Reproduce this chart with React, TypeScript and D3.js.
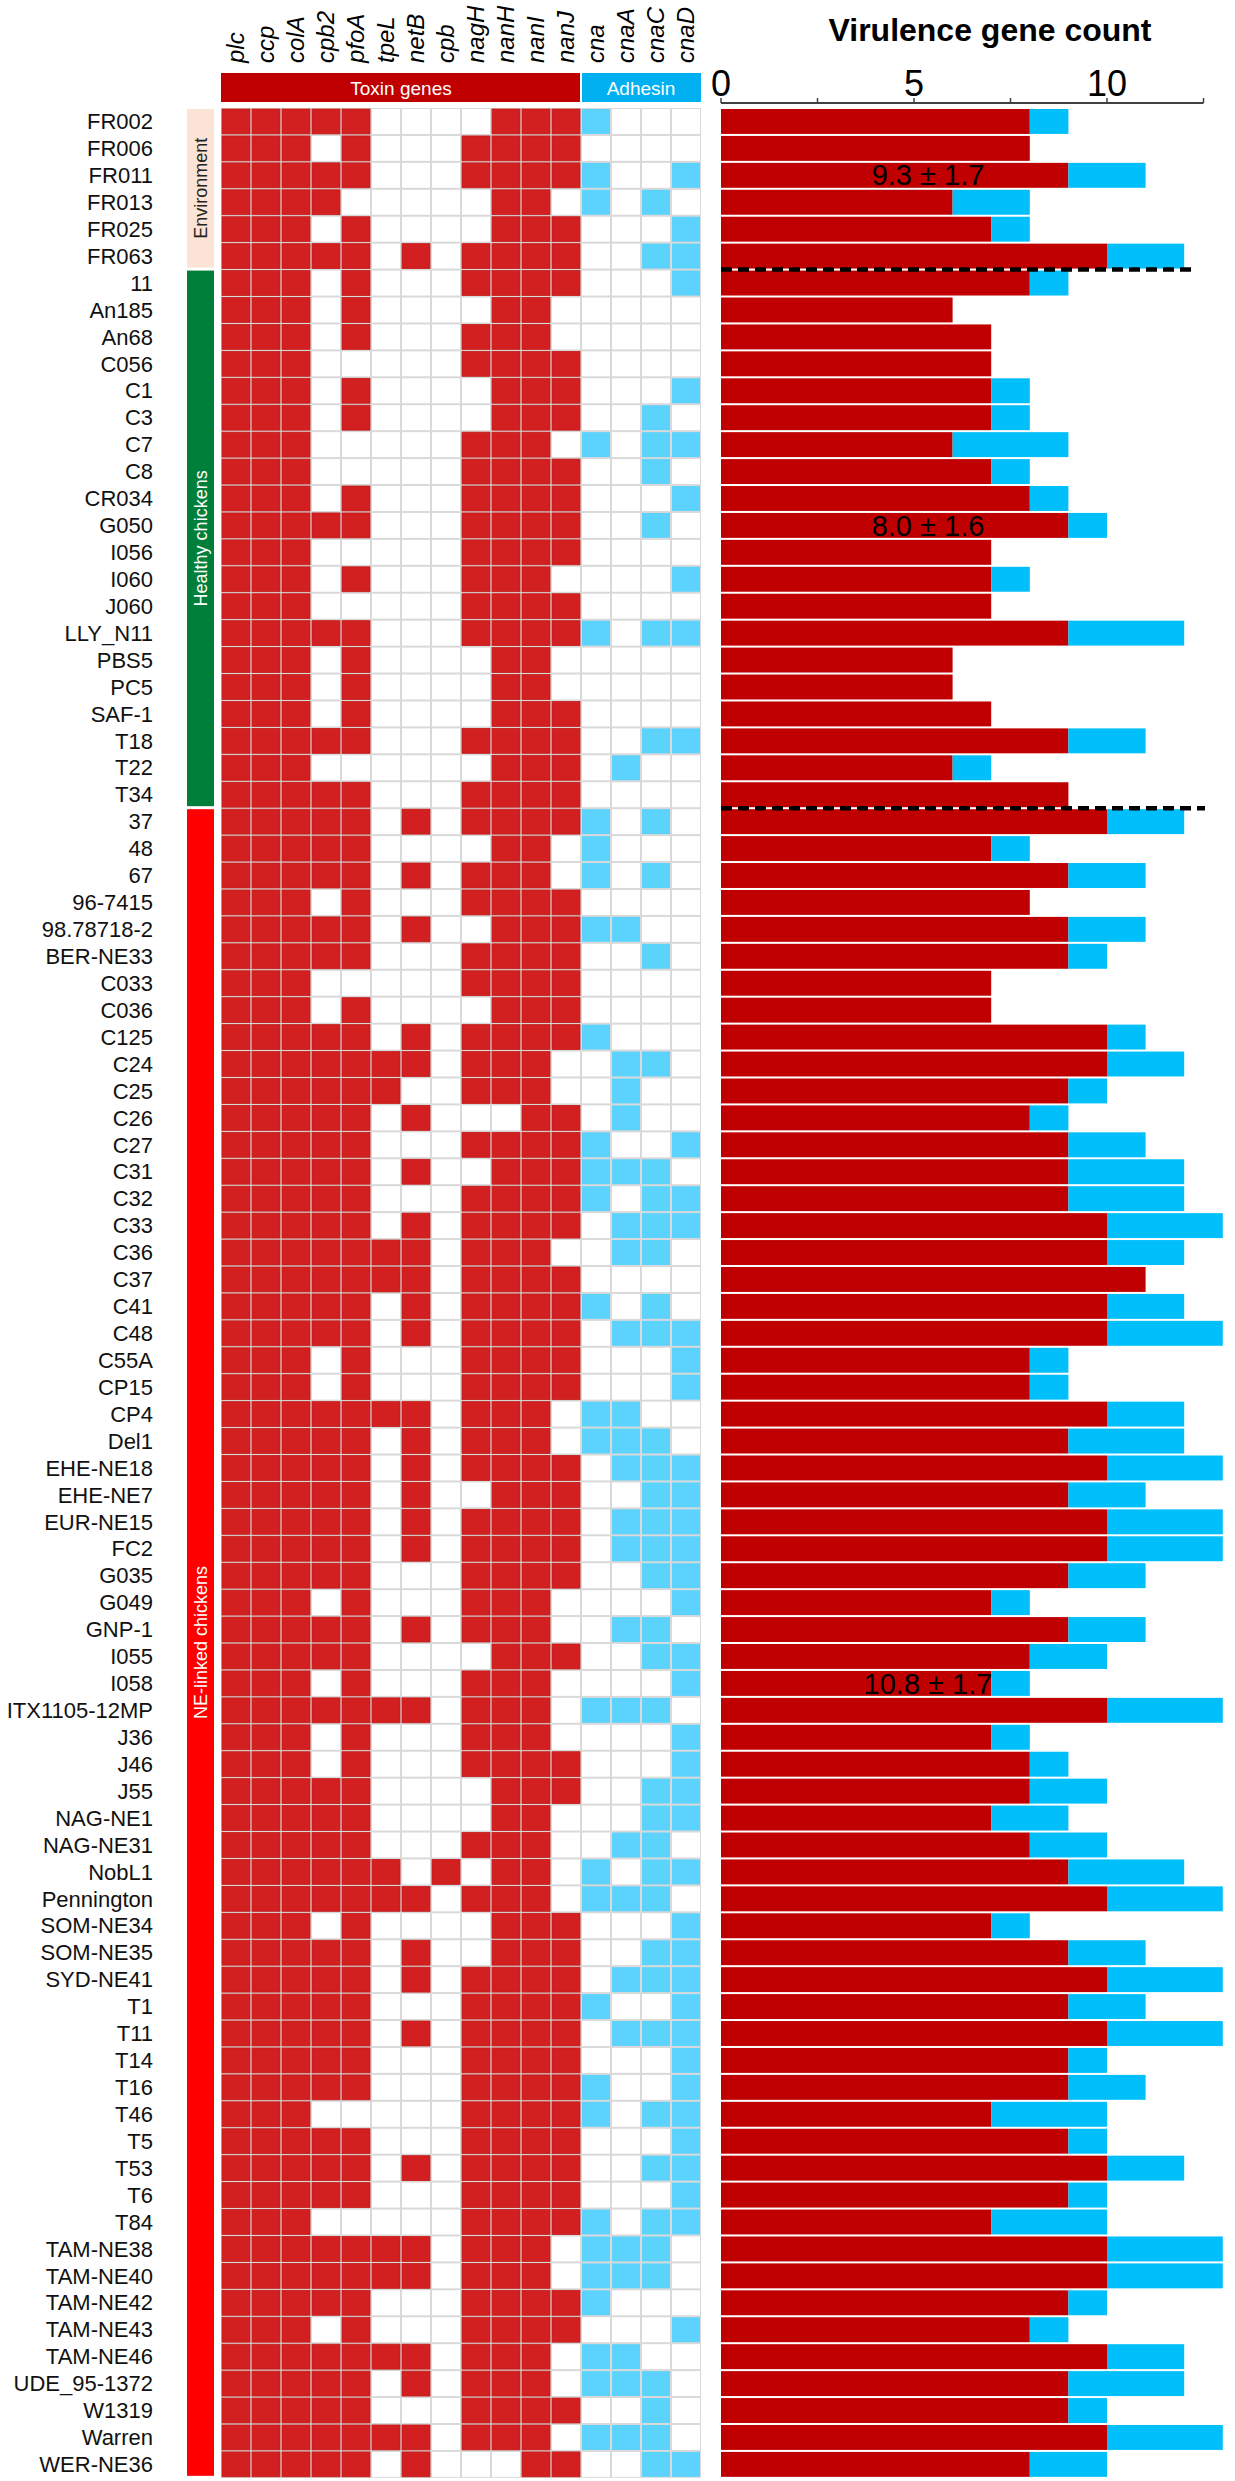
import React from 'react';
import * as d3 from 'd3';

const toxinGenes = ['plc', 'ccp', 'colA', 'cpb2', 'pfoA', 'tpeL', 'netB', 'cpb', 'nagH', 'nanH', 'nanI', 'nanJ'];
const adhesinGenes = ['cna', 'cnaA', 'cnaC', 'cnaD'];
const genes = [...toxinGenes, ...adhesinGenes];

const groupNames = ['Environment', 'Healthy chickens', 'NE-linked chickens'];
const groupSizes = [6, 20, 62];
const groupMeans = ['9.3 ± 1.7', '8.0 ± 1.6', '10.8 ± 1.7'];
const meanRows = ['FR011', 'G050', 'I058'];

const strains = [
  'FR002', 'FR006', 'FR011', 'FR013', 'FR025', 'FR063',
  '11', 'An185', 'An68', 'C056', 'C1', 'C3', 'C7', 'C8', 'CR034', 'G050', 'I056', 'I060', 'J060', 'LLY_N11', 'PBS5', 'PC5', 'SAF-1', 'T18', 'T22', 'T34',
  '37', '48', '67', '96-7415', '98.78718-2', 'BER-NE33', 'C033', 'C036', 'C125', 'C24', 'C25', 'C26', 'C27', 'C31', 'C32', 'C33', 'C36', 'C37', 'C41', 'C48', 'C55A', 'CP15', 'CP4', 'Del1', 'EHE-NE18', 'EHE-NE7', 'EUR-NE15', 'FC2', 'G035', 'G049', 'GNP-1', 'I055', 'I058', 'ITX1105-12MP', 'J36', 'J46', 'J55', 'NAG-NE1', 'NAG-NE31', 'NobL1', 'Pennington', 'SOM-NE34', 'SOM-NE35', 'SYD-NE41', 'T1', 'T11', 'T14', 'T16', 'T46', 'T5', 'T53', 'T6', 'T84', 'TAM-NE38', 'TAM-NE40', 'TAM-NE42', 'TAM-NE43', 'TAM-NE46', 'UDE_95-1372', 'W1319', 'Warren', 'WER-NE36',
];

// presence (1) / absence (0) of each gene, in the order of `genes`
const profiles = [
  '1111100001111000', '1110100011110000', '1111100011111001', '1111000001101010', '1110100001110001', '1111101011110011',
  '1110100011110001', '1110100001100000', '1110100011100000', '1110000011110000', '1110100001110001', '1110100001110010',
  '1110000011101011', '1110000011110010', '1110100011110001', '1111100011110010', '1110000011110000', '1110100011100001',
  '1110000011110000', '1111100011111011', '1110100001100000', '1110100001100000', '1110100001110000', '1111100011110011',
  '1110000001110100', '1111100011110000',
  '1111101011111010', '1111100001101000', '1111101011101010', '1110100011110000', '1111101001111100', '1111100011110010',
  '1110000011110000', '1110100001110000', '1111101011111000', '1111111011100110', '1111110011100100', '1111101000110100',
  '1111100011111001', '1111101001111110', '1111100011111011', '1111101011110111', '1111111011100110', '1111111011110000',
  '1111101011111010', '1111101011110111', '1110100011110001', '1110100011110001', '1111111011101100', '1111101011101110',
  '1111101011110111', '1111101001110011', '1111101011110111', '1111101011110111', '1111100011110011', '1110100011100001',
  '1111101011100110', '1111100001110011', '1110100011100001', '1111111011101110', '1110100011100001', '1110100011110001',
  '1111100001110011', '1111100001100011', '1111100011100110', '1111110101101011', '1111111011101110', '1110100001110001',
  '1111101001110011', '1111101011110111', '1111100011111001', '1111101011110111', '1111100011110001', '1111100011111001',
  '1110000011111011', '1111100011110001', '1111101011110011', '1111100011110001', '1110000011111011', '1111111011101110',
  '1111111011101110', '1111100011111000', '1110100011110001', '1111111011101100', '1111101011101110', '1111100011110010',
  '1111111011101110', '1111101000110011',
];

const axisTicks = [0, 2.5, 5, 7.5, 10, 12.5];
const axisLabels = [0, 5, 10];

const FONT = "'Liberation Sans', Arial, Helvetica, sans-serif";
const CELL_RED = '#D21F1F';
const CELL_BLUE = '#5CD3FF';
const BAR_RED = '#C00000';
const BAR_BLUE = '#00BFFA';
const groupFill = ['#FBE3D5', '#007F3A', '#FF0000'];
const groupText = ['#222', '#fff', '#fff'];

export default function App() {
  const W = 1235;
  const H = 2481;
  const rowTop = 108;
  const rowH = 26.93;

  const y = d3.scaleBand<string>().domain(strains).range([rowTop, rowTop + rowH * strains.length]).padding(0);
  const x = d3.scaleBand<string>().domain(genes).range([221, 701]).padding(0);
  const xb = d3.scaleLinear().domain([0, 12.5]).range([721, 1203.5]);

  const toxinCounts = profiles.map((p) => p.slice(0, toxinGenes.length).split('').filter((c) => c === '1').length);
  const adhesinCounts = profiles.map((p) => p.slice(toxinGenes.length).split('').filter((c) => c === '1').length);

  const groupStarts = groupSizes.map((_, i) => d3.sum(groupSizes.slice(0, i)));

  const cw = x.bandwidth();
  const rh = y.bandwidth();
  const toxinX0 = x(toxinGenes[0])!;
  const toxinX1 = x(toxinGenes[toxinGenes.length - 1])! + cw;
  const adhX0 = x(adhesinGenes[0])!;
  const adhX1 = x(adhesinGenes[adhesinGenes.length - 1])! + cw;

  return (
    <svg width={W} height={H} style={{ position: 'absolute', left: 0, top: 0, background: '#fff' }} fontFamily={FONT}>
      {/* title */}
      <text x={990} y={41} textAnchor="middle" fontSize={32} fontWeight="bold" fill="#000">
        Virulence gene count
      </text>

      {/* gene names */}
      {genes.map((g) => (
        <text
          key={g}
          transform={`translate(${x(g)! + cw / 2},63) rotate(-90)`}
          dy="0.35em"
          fontSize={24}
          fontStyle="italic"
          fill="#000"
        >
          {g}
        </text>
      ))}

      {/* gene class header bars */}
      <rect x={toxinX0} y={73} width={toxinX1 - toxinX0 - 1} height={29} fill="#C00000" />
      <text x={(toxinX0 + toxinX1) / 2} y={88} dy="0.35em" textAnchor="middle" fontSize={19} fill="#fff">
        Toxin genes
      </text>
      <rect x={adhX0 + 1} y={73} width={adhX1 - adhX0 - 1} height={29} fill="#00B0F0" />
      <text x={(adhX0 + adhX1) / 2} y={88} dy="0.35em" textAnchor="middle" fontSize={19} fill="#fff">
        Adhesin
      </text>

      {/* bar axis */}
      <line x1={xb(0)} x2={xb(12.5)} y1={103} y2={103} stroke="#404040" strokeWidth={2} />
      {axisTicks.map((t) => (
        <line key={t} x1={xb(t)} x2={xb(t)} y1={103} y2={98} stroke="#404040" strokeWidth={1.5} />
      ))}
      {axisLabels.map((t) => (
        <text key={t} x={xb(t)} y={96} textAnchor="middle" fontSize={36} fill="#000">
          {t}
        </text>
      ))}

      {/* row labels */}
      {strains.map((s) => (
        <text key={s} x={153} y={y(s)! + rh / 2} dy="0.35em" textAnchor="end" fontSize={22} fill="#111">
          {s}
        </text>
      ))}

      {/* group bars */}
      {groupNames.map((g, i) => {
        const top = y(strains[groupStarts[i]])! + 1;
        const bottom = y(strains[groupStarts[i] + groupSizes[i] - 1])! + rh - 2;
        const cx = 187 + 13.5;
        return (
          <g key={g}>
            <rect x={187} y={top} width={27} height={bottom - top} fill={groupFill[i]} />
            <text
              transform={`translate(${cx},${(top + bottom) / 2}) rotate(-90)`}
              dy="0.35em"
              textAnchor="middle"
              fontSize={18}
              fill={groupText[i]}
            >
              {g}
            </text>
          </g>
        );
      })}

      {/* heatmap */}
      <rect x={toxinX0} y={rowTop} width={adhX1 - toxinX0} height={rh * strains.length} fill="#D9D9D9" />
      {strains.map((s, ri) =>
        genes.map((g, ci) => {
          const on = profiles[ri][ci] === '1';
          const fill = on ? (ci < toxinGenes.length ? CELL_RED : CELL_BLUE) : '#fff';
          return (
            <rect
              key={`${s}-${g}`}
              x={x(g)! + 1}
              y={y(s)! + 1}
              width={cw - 2}
              height={rh - 2}
              fill={fill}
              stroke={on && ci < toxinGenes.length ? '#C41A1A' : 'none'}
              strokeWidth={0.8}
            />
          );
        })
      )}

      {/* stacked bars */}
      <g>
        {strains.map((s, i) => (
          <g key={s}>
            <rect
              x={xb(0)}
              y={y(s)! + 1}
              width={xb(toxinCounts[i]) - xb(0)}
              height={rh - 2}
              fill={BAR_RED}
            />
            {adhesinCounts[i] > 0 && (
              <rect
                x={xb(toxinCounts[i])}
                y={y(s)! + 1}
                width={xb(toxinCounts[i] + adhesinCounts[i]) - xb(toxinCounts[i])}
                height={rh - 2}
                fill={BAR_BLUE}
              />
            )}
          </g>
        ))}
      </g>

      {/* group separators */}
      {[1, 2].map((gi) => {
        const yy = y(strains[groupStarts[gi]])!;
        return (
          <line
            key={gi}
            x1={xb(0)}
            x2={gi === 1 ? 1197 : 1205}
            y1={yy}
            y2={yy}
            stroke="#000"
            strokeWidth={4.5}
            strokeDasharray="11,6"
          />
        );
      })}

      {/* group means */}
      {groupMeans.map((m, i) => (
        <text key={m} x={928} y={y(meanRows[i])! + rh / 2} dy="0.35em" textAnchor="middle" fontSize={29} fill="#000">
          {m}
        </text>
      ))}
    </svg>
  );
}
